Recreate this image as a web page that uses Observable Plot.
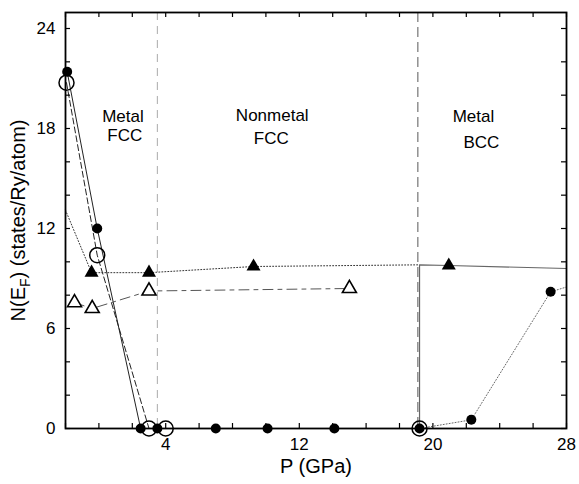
<!DOCTYPE html>
<html><head><meta charset="utf-8">
<script src="https://cdn.jsdelivr.net/npm/d3@7"></script>
<script src="https://cdn.jsdelivr.net/npm/@observablehq/plot@0.6"></script>
<style>body{margin:0;background:#fff;}</style>
</head><body><div id="chart"></div>
<script>
// ---- data ----
const xMinorTicks = [-2,0,2,4,6,8,10,12,14,16,18,20,22,24,26,28];
const xTickLabels = [4,12,20,28];
const yMinorTicks = [0,2,4,6,8,10,12,14,16,18,20,22,24];
const yTickLabels = [0,6,12,18,24];

// filled circles
const filledCircleP = [-1.9, -0.1, 2.5, 3.5, 7.0, 10.1, 14.1, 19.2, 22.3, 27.05];
const filledCircleN = [21.4, 12.0, 0, 0, 0, 0, 0, 0, 0.52, 8.2];
// open circles
const openCircleP = [-1.94, -0.1, 3.0, 4.0, 19.2];
const openCircleN = [20.75, 10.4, 0, 0, 0];
// filled triangles
const filledTriP = [-0.44, 3.0, 9.26, 20.95];
const filledTriN = [9.35, 9.35, 9.72, 9.78];
// open triangles
const openTriP = [-1.46, -0.4, 3.0, 15.0];
const openTriN = [7.55, 7.2, 8.25, 8.4];

// connecting lines
const solidLeftP = [-1.9, -0.1, 2.5];
const solidLeftN = [21.4, 12.0, 0];
const dashedLeftP = [-1.94, -0.1, 3.0];
const dashedLeftN = [20.75, 10.4, 0];
const dottedTriP = [-2.0, -0.44, 3.0, 9.26, 19.2];
const dottedTriN = [13.1, 9.35, 9.35, 9.72, 9.82];
const solidRightP = [19.2, 19.2, 20.95, 28.0];
const solidRightN = [0, 9.82, 9.78, 9.6];
const dottedRightP = [19.2, 22.3, 27.05, 30.0];
const dottedRightN = [0, 0.52, 8.2, 9.1];

const transitionP = [3.5, 19.1];

const regionLabels = [
  {p: 1.44, n: 18.7, t: "Metal"},
  {p: 1.55, n: 17.55, t: "FCC"},
  {p: 10.38, n: 18.75, t: "Nonmetal"},
  {p: 10.32, n: 17.4, t: "FCC"},
  {p: 22.43, n: 18.7, t: "Metal"},
  {p: 22.9, n: 17.15, t: "BCC"}
];

const zip = (P, N) => P.map((p, i) => ({p, n: N[i]}));

const W = 579, H = 484;
const mL = 65, mR = 13, mT = 12, mB = 56;
const innerW = W - mL - mR, innerH = H - mT - mB;
const tickLen = 5;

const chart = Plot.plot({
  width: W, height: H,
  marginLeft: mL, marginRight: mR, marginTop: mT, marginBottom: mB,
  x: {domain: [-2, 28]},
  y: {domain: [0, 24.96]},
  style: {fontFamily: "'Liberation Sans', Arial, Helvetica, sans-serif", fontSize: "17px", background: "#fff", color: "#000"},
  marks: [
    // transition lines
    Plot.ruleX([transitionP[0]], {stroke: "#aaa", strokeWidth: 1, strokeDasharray: "8,6"}),
    Plot.ruleX([transitionP[1]], {stroke: "#444", strokeWidth: 0.9, strokeDasharray: "10,5"}),
    // series lines
    Plot.line(zip(solidLeftP, solidLeftN), {x: "p", y: "n", stroke: "#222", strokeWidth: 1}),
    Plot.line(zip(dashedLeftP, dashedLeftN), {x: "p", y: "n", stroke: "#222", strokeWidth: 1, strokeDasharray: "6,3"}),
    Plot.line(zip(dottedTriP, dottedTriN), {x: "p", y: "n", stroke: "#333", strokeWidth: 1, strokeDasharray: "1,2"}),
    Plot.line(zip(openTriP, openTriN), {x: "p", y: "n", stroke: "#555", strokeWidth: 1, strokeDasharray: "10,5,4,5"}),
    Plot.line(zip(solidRightP, solidRightN), {x: "p", y: "n", stroke: "#666", strokeWidth: 1.2}),
    Plot.line(zip(dottedRightP, dottedRightN), {x: "p", y: "n", stroke: "#666", strokeWidth: 1, strokeDasharray: "1,2", clip: true}),
    // markers
    Plot.dot(zip(filledCircleP, filledCircleN), {x: "p", y: "n", r: 5, fill: "#000", stroke: "none"}),
    Plot.dot(zip(openCircleP, openCircleN), {x: "p", y: "n", r: 7.5, fill: "none", stroke: "#000", strokeWidth: 1.5}),
    Plot.dot(zip(filledTriP, filledTriN), {x: "p", y: "n", r: 5.2, symbol: "triangle", fill: "#000", stroke: "none"}),
    Plot.dot(zip(openTriP, openTriN), {x: "p", y: "n", r: 5.2, symbol: "triangle", fill: "#fff", stroke: "#000", strokeWidth: 1.6}),
    // inward ticks on all four sides
    Plot.ruleX(xMinorTicks, {x: d => d, stroke: "#000", strokeWidth: 1.2, insetTop: innerH - tickLen}),
    Plot.ruleX(xMinorTicks, {x: d => d, stroke: "#000", strokeWidth: 1.2, insetBottom: innerH - tickLen}),
    Plot.ruleY(yMinorTicks, {y: d => d, stroke: "#000", strokeWidth: 1.2, insetRight: innerW - tickLen}),
    Plot.ruleY(yMinorTicks, {y: d => d, stroke: "#000", strokeWidth: 1.2, insetLeft: innerW - tickLen}),
    Plot.frame({stroke: "#000", strokeWidth: 1.8}),
    // axes labels
    Plot.axisX(xTickLabels, {tickSize: 0, tickPadding: 9, label: null, fontSize: 17}),
    Plot.axisY(yTickLabels, {tickSize: 0, tickPadding: 10, label: null, fontSize: 17}),
    Plot.text(["P (GPa)"], {frameAnchor: "bottom", textAnchor: "middle", dy: 44, fontSize: 20}),
    Plot.text(["N(EF) (states/Ry/atom)"], {frameAnchor: "left", textAnchor: "middle", rotate: -90, dx: -47, fontSize: 20}),
    // region annotations
    Plot.text(regionLabels, {x: "p", y: "n", text: "t", fontSize: 17})
  ]
});

document.getElementById("chart").appendChild(chart);

// subscript F in the y label
d3.select(chart).selectAll("text").each(function() {
  if (this.textContent === "N(EF) (states/Ry/atom)") {
    const t = d3.select(this);
    t.text(null);
    t.append("tspan").text("N(E");
    t.append("tspan").attr("dy", 5).attr("font-size", 14).text("F");
    t.append("tspan").attr("dy", -5).text(") (states/Ry/atom)");
  }
});
</script>
</body></html>
